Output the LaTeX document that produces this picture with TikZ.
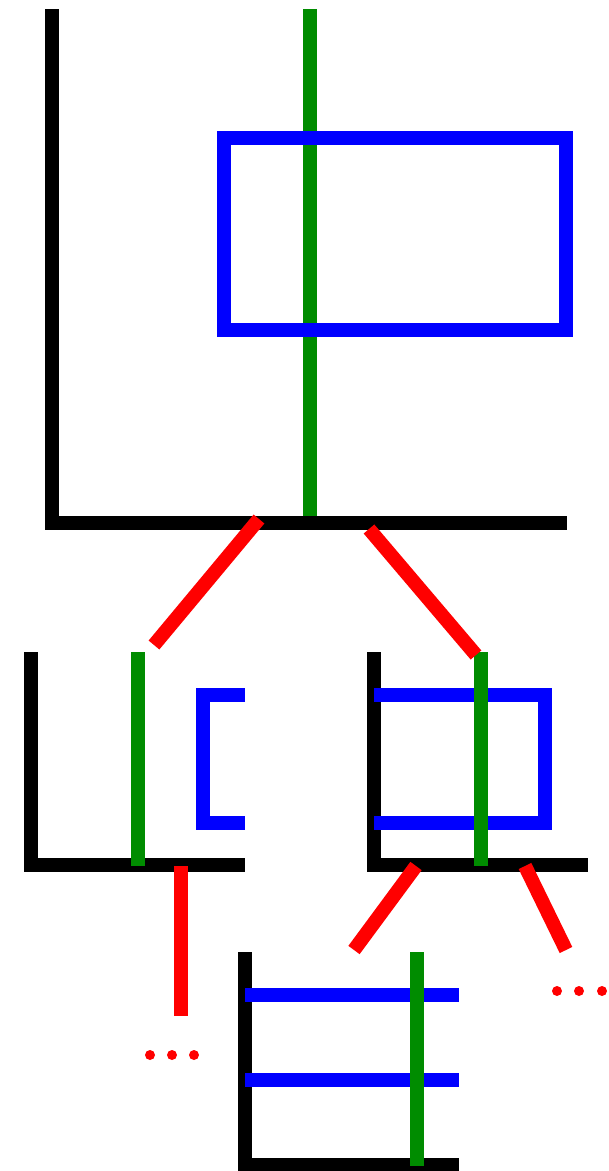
\documentclass[tikz,border=0pt]{standalone}
\begin{document}
\begin{tikzpicture}[
  x=1pt, y=-1pt,
  axisln/.style={line width=14pt, draw=black},
  splitln/.style={line width=14pt, draw=splitGreen},
  cellln/.style={line width=14pt, draw=blue},
  edgeln/.style={line width=14pt, draw=red},
  moredot/.style={fill=red},
]

%% ── Colours ──────────────────────────────────────────────────────────────────
\definecolor{splitGreen}{RGB}{0,140,0}

\useasboundingbox (0,0) rectangle (609,1171);

%% ── Root cell (top) ──────────────────────────────────────────────────────────
\draw[splitln] (310,9) -- (310,523);
\draw[cellln]  (224,138) rectangle (566,330);
\draw[axisln]  (52,9) |- (567,523);

%% ── Left child ───────────────────────────────────────────────────────────────
\draw[axisln]  (31,652) |- (245,865);
\draw[splitln] (138,652) -- (138,866);
\draw[cellln]  (245,695) -- (203,695) -- (203,823) -- (245,823);

%% ── Right child ──────────────────────────────────────────────────────────────
\draw[axisln]  (374,652) |- (588,865);
\draw[cellln]  (374,695) -- (545,695) -- (545,823) -- (374,823);
\draw[splitln] (481,652) -- (481,866);

%% ── Grandchild (bottom) ──────────────────────────────────────────────────────
\draw[axisln]  (245,952) |- (459,1165);
\draw[cellln]  (245,995) -- (459,995);
\draw[cellln]  (245,1080) -- (459,1080);
\draw[splitln] (417,952) -- (417,1166);

%% ── Edge end points ──────────────────────────────────────────────────────────
\coordinate (rootL)   at (259,519);
\coordinate (rootR)   at (369,529);
\coordinate (leftIn)  at (154,645);
\coordinate (rightIn) at (476,655);
\coordinate (leftOut) at (181,866);
\coordinate (leftEnd) at (181,1016);
\coordinate (rightL)  at (416,866);
\coordinate (gchIn)   at (354,950);
\coordinate (rightR)  at (525,866);
\coordinate (rightEnd) at (566,950);

%% ── Red edges ────────────────────────────────────────────────────────────────
\draw[edgeln] (rootL) -- (leftIn);
\draw[edgeln] (rootR) -- (rightIn);
\draw[edgeln] (leftOut) -- (leftEnd);
\draw[edgeln] (rightL) -- (gchIn);
\draw[edgeln] (rightR) -- (rightEnd);

%% ── Ellipsis dots ────────────────────────────────────────────────────────────
\foreach \x in {150,172,194}
  \fill[moredot] (\x,1055) circle (5);
\foreach \x in {557,579,602}
  \fill[moredot] (\x,991) circle (5);

\end{tikzpicture}
\end{document}
